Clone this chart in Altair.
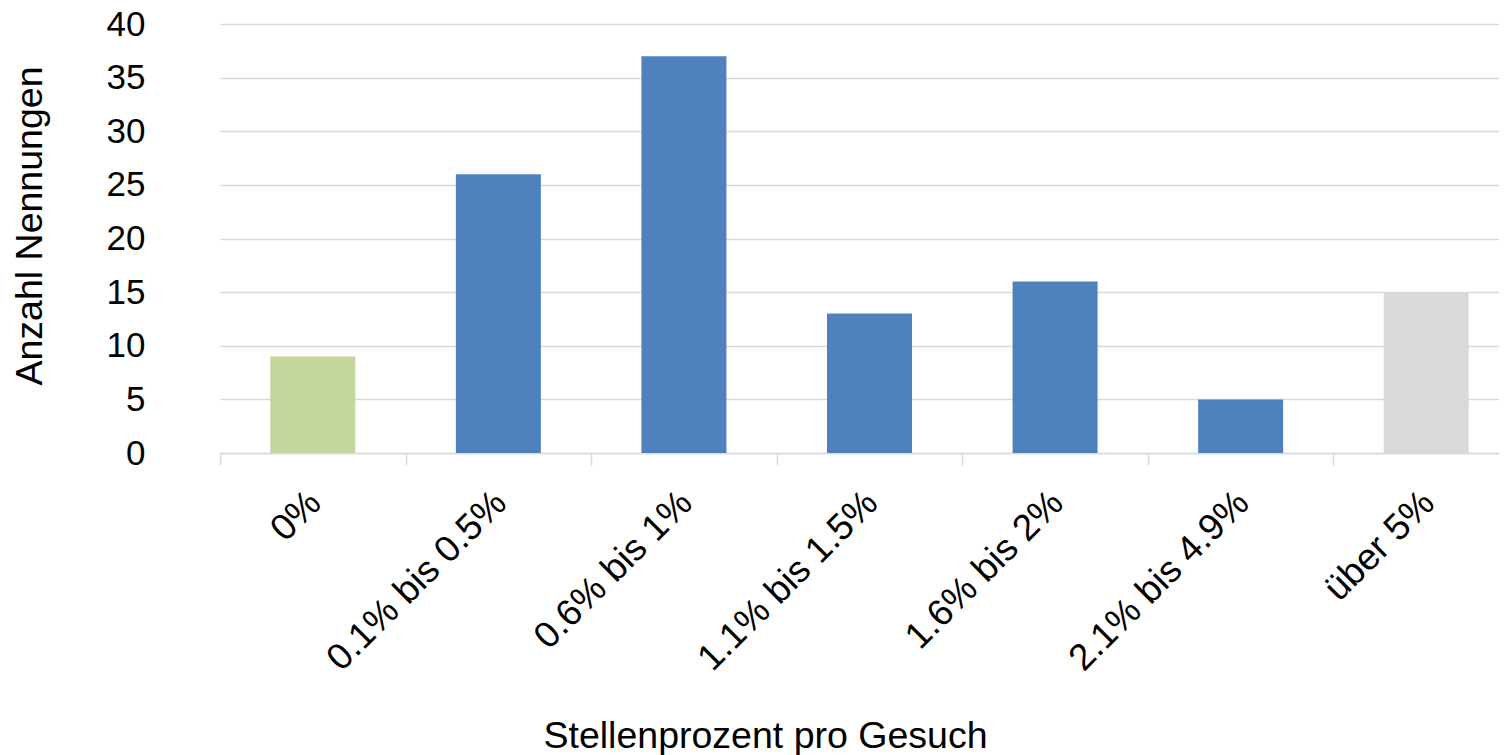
import altair as alt
import pandas as pd

categories = ["0%", "0.1% bis 0.5%", "0.6% bis 1%", "1.1% bis 1.5%",
              "1.6% bis 2%", "2.1% bis 4.9%", "über 5%"]
counts = [9, 26, 37, 13, 16, 5, 15]
groups = ["keine", "Stellen", "Stellen", "Stellen", "Stellen", "Stellen", "über"]
group_names = ["keine", "Stellen", "über"]
group_colors = ["#C3D69B", "#4F81BD", "#D9D9D9"]
y_ticks = [0, 5, 10, 15, 20, 25, 30, 35, 40]

df = pd.DataFrame({"Kategorie": categories, "Anzahl": counts, "Gruppe": groups})

FONT = "Liberation Sans"

chart = alt.Chart(df).mark_bar(width=alt.RelativeBandSize(0.458)).encode(
    x=alt.X(
        "Kategorie:N",
        sort=categories,
        title="Stellenprozent pro Gesuch",
        scale=alt.Scale(range=[0, 1299], paddingInner=0, paddingOuter=0),
        axis=alt.Axis(
            labelAngle=-45, labelAlign="right", labelBaseline="middle",
            labelFont=FONT, labelFontSize=37, labelColor="#000000",
            labelPadding=32, labelOffset=2, labelLimit=0,
            tickBand="extent", tickSize=12, tickColor="#D9D9D9", tickWidth=1.5,
            domainColor="#D9D9D9", domainWidth=1.5, grid=False,
            titleFont=FONT, titleFontSize=37.5, titleFontWeight="normal",
            titleColor="#000000", titleX=545, titleY=294,
            titleAlign="center", titleBaseline="alphabetic",
        ),
    ),
    y=alt.Y(
        "Anzahl:Q",
        title="Anzahl Nennungen",
        scale=alt.Scale(domain=[0, 40], nice=False),
        axis=alt.Axis(
            values=y_ticks, domain=False, ticks=False,
            labelFont=FONT, labelFontSize=35, labelColor="#000000", labelPadding=75,
            gridColor="#D9D9D9", gridWidth=1.5,
            titleFont=FONT, titleFontSize=37.5, titleFontWeight="normal",
            titleColor="#000000", titleX=-179, titleY=201.5,
            titleAngle=270, titleAlign="center", titleBaseline="alphabetic",
        ),
    ),
    color=alt.Color("Gruppe:N",
                    scale=alt.Scale(domain=group_names, range=group_colors),
                    legend=None),
).properties(
    width=1279,
    height=429,
    autosize=alt.AutoSizeParams(type="none"),
    padding={"left": 212, "top": 16, "right": 0, "bottom": 302},
).configure_view(stroke=None)

chart.save("out.html", embed_options={"renderer": "svg", "actions": False})
